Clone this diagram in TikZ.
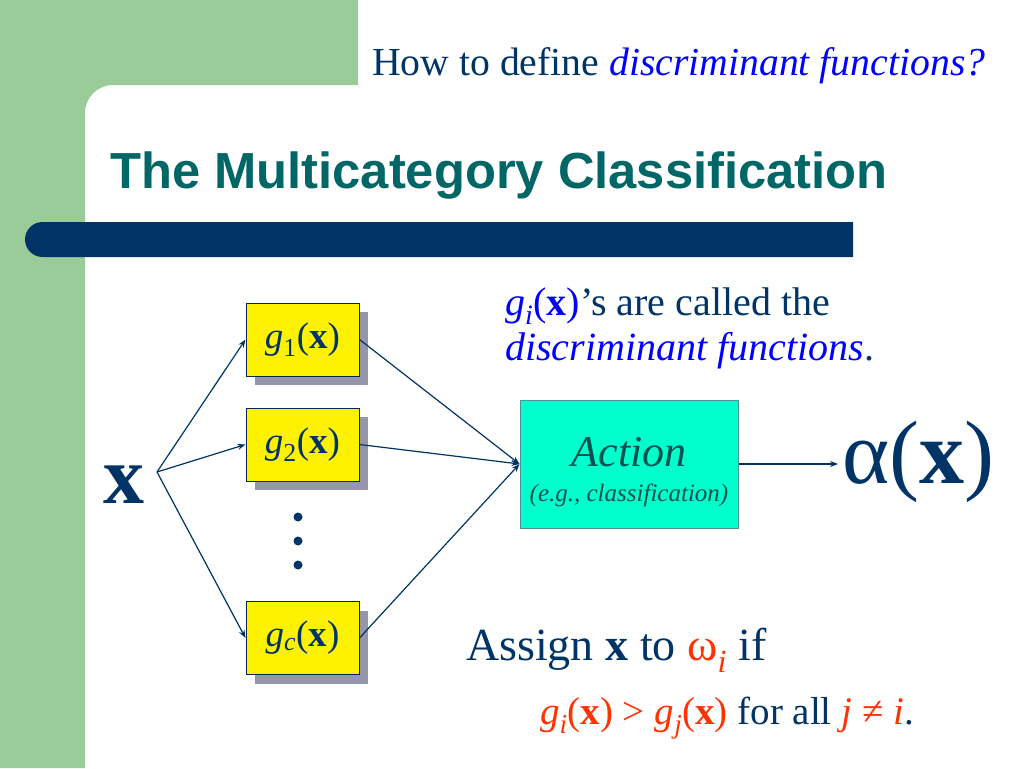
\documentclass[tikz,border=0pt]{standalone}
\usepackage{fontspec}
\usepackage{xcolor}
\usepackage{tikz}
\usetikzlibrary{arrows.meta, positioning, shadows}
\setmainfont{Liberation Serif}
\newfontfamily\titlefont{Liberation Sans}
\definecolor{slgreen}{RGB}{153,204,153}
\definecolor{slnavy}{RGB}{0,51,102}
\definecolor{slteal}{RGB}{0,102,102}
\definecolor{slblue}{RGB}{0,0,255}
\definecolor{slred}{RGB}{255,51,0}
\definecolor{slaqua}{RGB}{0,255,204}
\definecolor{slshadow}{RGB}{150,150,170}
\newcommand{\fsz}[1]{\fontsize{#1}{1.15\dimexpr #1pt\relax}\selectfont}

\begin{document}
\begin{tikzpicture}[x=1pt,y=-1pt,
  gbox/.style={draw=slnavy!80!black,fill=yellow,line width=1pt,minimum width=113pt,minimum height=73pt,
    inner sep=0pt,text=slnavy,font=\fsz{37},
    drop shadow={shadow xshift=9pt,shadow yshift=-9pt,fill=slshadow,opacity=1}},
  abox/.style={draw=slteal!70,fill=slaqua,line width=1pt,minimum width=218pt,minimum height=128pt,
    inner sep=0pt,text=slteal!80!black,align=center,font=\fsz{25}\itshape},
  txt/.style={inner sep=0pt,anchor=base west,text=slnavy},
  link/.style={-{Stealth[length=8pt,width=6pt]},slnavy,line width=1.2pt}]
\useasboundingbox (0,0) rectangle (1024,768);
% Slide background
\fill[white] (0,0) rectangle (1024,768);
\fill[slgreen] (0,0) -- (358,0) -- (358,85) -- (113,85) arc[start angle=270,end angle=180,radius=28]
  -- (85,768) -- (0,768) -- cycle;
\fill[slnavy] (853,222) -- (42.5,222) arc[start angle=270,end angle=90,radius=17.5] -- (853,257) -- cycle;

% Headings
\node[txt,font=\fsz{39.7}] (sub) at (372,75) {How to define {\color{slblue}\itshape discriminant functions?}};
\node[txt,font=\titlefont\bfseries\fsz{50.7},text=slteal] (title) at (110,188) {The Multicategory Classification};

% Input and discriminants
\node[txt,font=\bfseries\fsz{82}] (xin) at (103,503) {x};
\coordinate (xout) at (157,472);
\node[gbox] (g1) at (302.5,339.5) {{\itshape g}\textsubscript{1}(\textbf{x})};
\node[gbox] (g2) at (302.5,444.5) {{\itshape g}\textsubscript{2}(\textbf{x})};
\node[gbox] (gc) at (302.5,638) {{\itshape g}\textsubscript{\itshape c}(\textbf{x})};
\foreach \y in {517,541,565}
  \fill[slnavy] (298,\y) circle[radius=4.5];

% Action and output
\node[abox] (act) at (629,464) {\rule{0pt}{46pt}{\fsz{44}Action}\\[6pt](e.g., classification)};
\node[txt,font=\fsz{90}] (alpha) at (842,483) {α(\textbf{x})};
\coordinate (aout) at (838,464);

\foreach \g in {g1,g2,gc} {
  \draw[link] (xout) -- (\g.west);
  \draw[link] (\g.east) -- (act.west);
}
\draw[link] (act.east) -- (aout);

% Notes
\node[txt,font=\fsz{40}] (note1) at (505,315) {{\color{slblue}{\itshape g}\textsubscript{\itshape i}(\textbf{x})}’s are called the};
\node[txt,font=\fsz{40}] (note2) at (505,360) {{\color{slblue}\itshape discriminant functions}.};
\node[txt,font=\fsz{46}] (rule1) at (466,660) {Assign \textbf{x} to {\color{slred}ω\textsubscript{\itshape i}} if};
\node[txt,font=\fsz{39}] (rule2) at (540,724) {{\color{slred}{\itshape g}\textsubscript{\itshape i}(\textbf{x}) > {\itshape g}\textsubscript{\itshape j}(\textbf{x})} for all {\color{slred}{\itshape j} ≠ {\itshape i}}.};
\end{tikzpicture}
\end{document}
